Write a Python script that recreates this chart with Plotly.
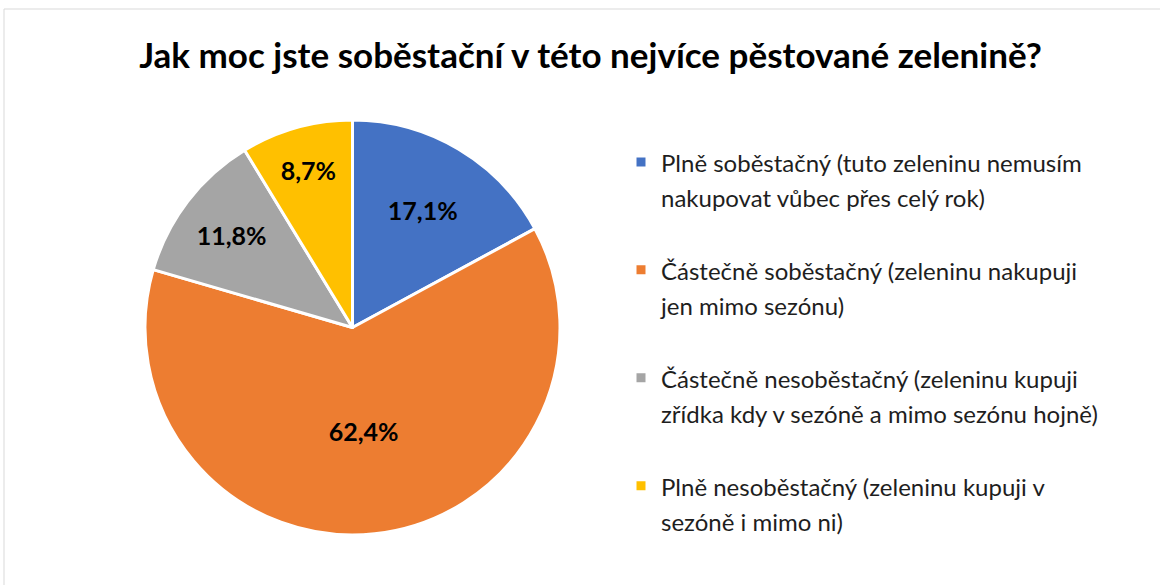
import plotly.graph_objects as go

title = "Jak moc jste soběstační v této nejvíce pěstované zelenině?"
categories = [
    "Plně soběstačný (tuto zeleninu nemusím<br>nakupovat vůbec přes celý rok)",
    "Částečně soběstačný (zeleninu nakupuji<br>jen mimo sezónu)",
    "Částečně nesoběstačný (zeleninu kupuji<br>zřídka kdy v sezóně a mimo sezónu hojně)",
    "Plně nesoběstačný (zeleninu kupuji v<br>sezóně i mimo ni)",
]
values = [17.1, 62.4, 11.8, 8.7]
colors = ["#4472C4", "#ED7D31", "#A5A5A5", "#FFC000"]

W, H = 1160, 585
SPAN = "<span style='font-size:24px'>"
legend_labels = [" <br>" + SPAN + c.replace("<br>", "</span><br>" + SPAN) + "</span>" for c in categories]

fig = go.Figure(
    go.Pie(
        labels=legend_labels,
        values=values,
        sort=False,
        direction="clockwise",
        rotation=0,
        marker=dict(colors=colors, line=dict(color="white", width=3)),
        texttemplate="%{percent:.1%}",
        textposition="inside",
        insidetextorientation="horizontal",
        textfont=dict(family="Lato", size=25, color="black", weight="bold"),
        hoverinfo="skip",
        domain=dict(x=[145 / W, 560 / W], y=[1 - 535 / H, 1 - 120 / H]),
    )
)

fig.update_layout(
    width=W,
    height=H,
    margin=dict(l=0, r=0, t=0, b=0),
    paper_bgcolor="white",
    plot_bgcolor="white",
    separators=", ",
    title=dict(
        text="<b>" + title + "</b>",
        x=590.5 / W,
        xanchor="center",
        y=1 - 56 / H,
        yanchor="middle",
        font=dict(family="Lato", size=35, color="black"),
    ),
    legend=dict(
        x=621 / W,
        xanchor="left",
        y=1 - 103 / H,
        yanchor="top",
        font=dict(family="Lato", size=26.9, color="#1E1E1E"),
        itemclick=False,
        bgcolor="rgba(0,0,0,0)",
    ),
    shapes=[
        dict(
            type="rect",
            xref="paper",
            yref="paper",
            x0=4 / W,
            x1=1.02,
            y0=-0.02,
            y1=1 - 9 / H,
            line=dict(color="#D9D9D9", width=1),
            fillcolor="rgba(0,0,0,0)",
            layer="below",
        )
    ],
)

fig.write_html(
    "out.html",
    config={"displayModeBar": False},
    post_script="document.body.style.margin='0';",
)
